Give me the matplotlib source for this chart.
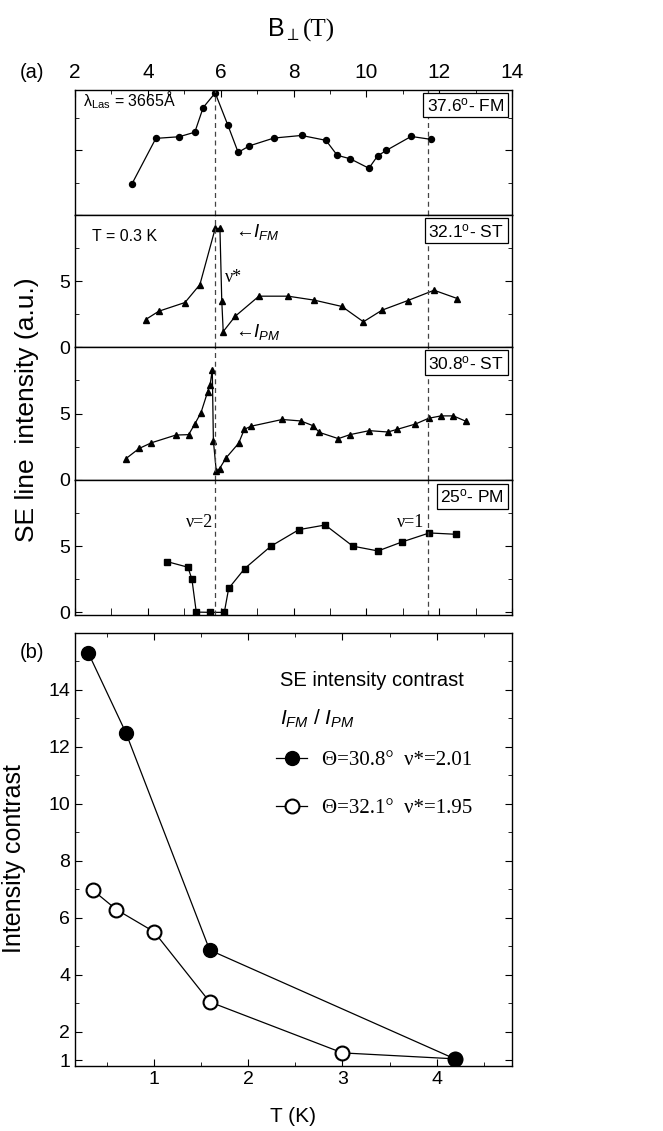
import matplotlib
matplotlib.use('Agg')
import matplotlib.pyplot as plt
from matplotlib.ticker import MultipleLocator, NullFormatter

plt.rcParams['font.family'] = ['Liberation Sans', 'DejaVu Sans']
plt.rcParams['mathtext.fontset'] = 'custom'
plt.rcParams['mathtext.rm'] = 'Liberation Sans'
plt.rcParams['mathtext.it'] = 'Liberation Sans:italic'
plt.rcParams['xtick.direction'] = 'in'
plt.rcParams['ytick.direction'] = 'in'
plt.rcParams['axes.linewidth'] = 1.0

# panel (a): SE line intensity vs B_perp for four tilt angles
b_376 = [3.56, 4.22, 4.86, 5.29, 5.52, 5.85, 6.20, 6.48, 6.79, 7.46, 8.22, 8.89,
         9.20, 9.56, 10.07, 10.31, 10.55, 11.23, 11.77]
i_376 = [0.95, 2.36, 2.41, 2.55, 3.31, 3.76, 2.76, 1.93, 2.13, 2.37, 2.45, 2.30,
         1.84, 1.73, 1.44, 1.82, 1.99, 2.42, 2.33]

b_321 = [3.94, 4.30, 5.02, 5.43, 5.85, 5.98, 6.03, 6.07, 6.40, 7.05, 7.85, 8.57,
         9.33, 9.92, 10.43, 11.14, 11.86, 12.50]
i_321 = [2.08, 2.71, 3.37, 4.73, 8.98, 8.98, 3.52, 1.17, 2.33, 3.85, 3.85, 3.55,
         3.07, 1.91, 2.79, 3.52, 4.30, 3.67]

b_308 = [3.40, 3.76, 4.10, 4.77, 5.12, 5.29, 5.46, 5.64, 5.71, 5.77, 5.80, 5.88,
         5.97, 6.15, 6.49, 6.65, 6.83, 7.69, 8.20, 8.53, 8.71, 9.23, 9.55, 10.08,
         10.59, 10.85, 11.35, 11.71, 12.05, 12.39, 12.73]
i_308 = [1.61, 2.37, 2.80, 3.38, 3.41, 4.21, 5.07, 6.61, 7.17, 8.28, 2.95, 0.65,
         0.86, 1.67, 2.75, 3.81, 4.04, 4.55, 4.44, 4.09, 3.58, 3.11, 3.41, 3.71,
         3.61, 3.81, 4.21, 4.64, 4.82, 4.82, 4.42]

b_25 = [4.52, 5.10, 5.21, 5.33, 5.72, 6.10, 6.22, 6.66, 7.38, 8.15, 8.87, 9.63,
        10.32, 10.98, 11.73, 12.45]
i_25 = [3.84, 3.41, 2.51, 0.02, 0.0, 0.0, 1.81, 3.31, 5.0, 6.25, 6.6, 5.0,
        4.64, 5.32, 6.0, 5.9]

nu_lines = [5.85, 11.70]

# panel (b): intensity contrast vs temperature
t_308 = [0.30, 0.70, 1.59, 4.20]
c_308 = [15.31, 12.5, 4.87, 1.04]
t_321 = [0.35, 0.60, 1.00, 1.59, 3.00, 4.20]
c_321 = [6.97, 6.29, 5.51, 3.05, 1.26, 1.05]

W, H = 663, 1131
fig = plt.figure(figsize=(W / 100, H / 100), dpi=100)

def box(top, bottom, left=75, right=512):
    return [left / W, 1 - bottom / H, (right - left) / W, (bottom - top) / H]

ax1 = fig.add_axes(box(90, 215))
ax2 = fig.add_axes(box(215, 347), sharex=ax1)
ax3 = fig.add_axes(box(347, 480), sharex=ax1)
ax4 = fig.add_axes(box(480, 615), sharex=ax1)
axb = fig.add_axes(box(633, 1066))

ax1.plot(b_376, i_376, '-o', color='black', lw=0.9, ms=4.3)
ax2.plot(b_321, i_321, '-^', color='black', lw=0.9, ms=5)
ax3.plot(b_308, i_308, '-^', color='black', lw=0.9, ms=5)
ax4.plot(b_25, i_25, '-s', color='black', lw=0.9, ms=4.3)

ax1.set_ylim(0, 3.85)
ax2.set_ylim(0, 10)
ax3.set_ylim(0, 10)
ax4.set_ylim(-0.2, 10)
ax1.set_xlim(2, 14)

for ax in (ax1, ax2, ax3, ax4):
    for b in nu_lines:
        ax.axvline(b, color='#444444', lw=0.9, ls=(0, (4, 3)))
    ax.tick_params(axis='y', which='both', left=True, right=True, labelsize=14)
    ax.tick_params(axis='y', which='major', length=5)
    ax.tick_params(axis='y', which='minor', length=3)
    ax.tick_params(axis='x', which='both', bottom=False, top=False,
                   labelbottom=False, labeltop=False)

ax1.yaxis.set_major_locator(MultipleLocator(2))
ax1.yaxis.set_minor_locator(MultipleLocator(1))
ax1.yaxis.set_major_formatter(NullFormatter())
for ax in (ax2, ax3, ax4):
    ax.set_yticks([0, 5])
    ax.set_yticks([2.5, 7.5], minor=True)

ax1.xaxis.set_major_locator(MultipleLocator(2))
ax1.xaxis.set_minor_locator(MultipleLocator(1))
ax1.tick_params(axis='x', which='both', top=True, labeltop=True, labelsize=15,
                pad=6)
ax1.tick_params(axis='x', which='major', length=5)
ax1.tick_params(axis='x', which='minor', length=3)
ax4.tick_params(axis='x', which='both', bottom=True)
ax4.tick_params(axis='x', which='major', length=5)
ax4.tick_params(axis='x', which='minor', length=5)

boxprops = dict(boxstyle='square,pad=0.2', fc='white', ec='black', lw=0.9)
tags = [(ax1, r'37.6$^{\mathrm{o}}$- FM'), (ax2, r'32.1$^{\mathrm{o}}$- ST'),
        (ax3, r'30.8$^{\mathrm{o}}$- ST'), (ax4, r'25$^{\mathrm{o}}$- PM')]
for ax, s in tags:
    ax.text(0.982, 0.88, s, transform=ax.transAxes, ha='right', va='center',
            fontsize=12.5, bbox=boxprops)

ax1.text(2.22, 3.54, r'λ$_{\mathrm{Las}}$ = 3665Å', fontsize=11.5, va='center')
ax2.text(2.47, 8.4, 'T = 0.3 K', fontsize=11.5, va='center')
ax2.text(6.4, 8.75, r'←$I_{FM}$', fontsize=13.5, va='center')
ax2.text(6.4, 1.17, r'←$I_{PM}$', fontsize=13.5, va='center')
ax2.text(6.12, 5.3, 'ν*', family='Liberation Serif', fontsize=13, va='center')
ax4.text(5.79, 6.8, 'ν=2', family='Liberation Serif', fontsize=13,
         ha='right', va='center')
ax4.text(11.6, 6.8, 'ν=1', family='Liberation Serif', fontsize=13,
         ha='right', va='center')

fig.text(300 / W, 1 - 30 / H, r'B$_{\perp}$', fontsize=18, ha='right', va='center')
fig.text(303 / W, 1 - 30 / H, '(T)', family='Liberation Serif', fontsize=18,
         ha='left', va='center')
fig.text(20 / W, 1 - 73 / H, '(a)', fontsize=14.5, ha='left', va='center')
fig.text(20 / W, 1 - 652 / H, '(b)', fontsize=14.5, ha='left', va='center')
fig.text(27 / W, 1 - 410 / H, 'SE line  intensity (a.u.)', fontsize=19,
         rotation=90, ha='center', va='center')

# panel (b)
axb.plot(t_321, c_321, '-o', color='black', mfc='white', mec='black', mew=1.5,
         lw=0.9, ms=10, label='Θ=32.1°  ν*=1.95', zorder=3)
axb.plot(t_308, c_308, '-o', color='black', lw=0.9, ms=10,
         label='Θ=30.8°  ν*=2.01', zorder=4)
axb.set_xlim(0.16, 4.8)
axb.set_ylim(0.8, 16)
axb.set_xticks([1, 2, 3, 4])
axb.xaxis.set_minor_locator(MultipleLocator(0.5))
axb.set_yticks([1, 2, 4, 6, 8, 10, 12, 14])
axb.set_yticks([3, 5, 7, 9, 11, 13, 15], minor=True)
axb.tick_params(axis='both', which='both', top=True, right=True, labelsize=14)
axb.tick_params(axis='both', which='major', length=5)
axb.tick_params(axis='both', which='minor', length=3)
axb.set_xlabel('T (K)', fontsize=15)
axb.set_ylabel('Intensity contrast', fontsize=18)
axb.xaxis.set_label_coords(0.5, -0.095)
axb.yaxis.set_label_coords(-0.112, 0.48)

axb.text(2.34, 14.32, 'SE intensity contrast', fontsize=14.5, va='center')
axb.text(2.34, 12.97, r'$I_{FM}$ / $I_{PM}$', fontsize=15, va='center')
h, l = axb.get_legend_handles_labels()
axb.legend(h[::-1], l[::-1], loc='upper left', bbox_to_anchor=(0.46, 0.728),
           frameon=False, prop={'family': 'Liberation Serif', 'size': 15},
           handlelength=1.5, handletextpad=0.7, labelspacing=1.37,
           borderpad=0, borderaxespad=0)

fig.savefig('out.png', dpi=100)
